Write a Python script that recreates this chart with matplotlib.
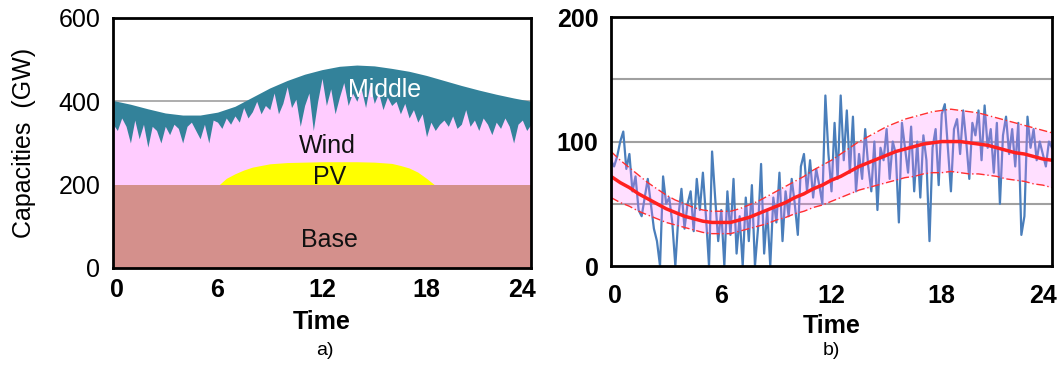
import matplotlib.pyplot as plt
import matplotlib.transforms as mtransforms

plt.rcParams['font.family'] = ['Liberation Sans', 'DejaVu Sans']

# ---------- a) capacities ----------
hours = list(range(25))
# top of the "Middle" band (GW)
middle_top = [402, 393, 382, 372, 367, 367, 374, 388, 410, 432, 450, 465, 476,
              484, 487, 485, 479, 472, 462, 450, 438, 427, 417, 408, 400]

# top of the wind band, every quarter hour (GW)
wind_hours = [i * 0.25 for i in range(97)]
wind_top = [345, 330, 360, 340, 300, 355, 310, 345, 290, 340, 330, 300,
            340, 320, 345, 335, 300, 340, 350, 330, 310, 345, 300, 355,
            350, 335, 360, 345, 365, 350, 385, 360, 375, 400, 370, 390,
            380, 420, 370, 395, 435, 385, 405, 340, 390, 420, 330, 400,
            455, 390, 430, 370, 410, 445, 390, 420, 400, 430, 385, 440,
            395, 420, 380, 410, 390, 400, 370, 395, 360, 380, 350, 370,
            315, 350, 330, 345, 355, 340, 365, 335, 345, 380, 340, 355,
            330, 360, 345, 320, 350, 335, 360, 340, 300, 345, 355, 330,
            345]

pv_hours = [6.1, 6.5, 7.0, 7.5, 8.0, 9.0, 10, 11, 12, 13, 14, 15, 16, 16.5,
            17, 17.5, 18, 18.45]
pv_top = [200, 215, 226, 235, 242, 250, 253, 254, 255, 255, 255, 254, 251,
          246, 240, 230, 215, 200]
base_level = 200

# ---------- b) wind time series ----------
mean_hours = [i * 0.5 for i in range(49)]
mean_wind = [72, 67, 63, 58, 54, 50, 46, 43, 40, 38, 36, 35, 35, 35, 37, 39,
             42, 45, 48, 51, 55, 58, 62, 65, 69, 72, 76, 80, 83, 86, 89, 92,
             94, 96, 98, 99, 100, 100, 100, 99, 98, 97, 95, 93, 91, 90, 88, 86,
             85]
upper_wind = [92, 85, 79, 73, 67, 62, 57, 53, 50, 47, 45, 44, 44, 44, 46, 49,
              52, 56, 60, 64, 68, 72, 77, 81, 85, 90, 95, 100, 104, 108, 112, 115,
              118, 120, 122, 124, 125, 126, 125, 124, 123, 121, 119, 117, 115, 113, 111, 109,
              107]
lower_wind = [55, 51, 48, 44, 41, 38, 35, 33, 31, 29, 27, 26, 26, 26, 28, 30,
              32, 34, 37, 39, 42, 44, 47, 49, 52, 55, 58, 61, 63, 65, 67, 69,
              71, 72, 74, 75, 75, 76, 75, 74, 74, 73, 72, 70, 69, 68, 66, 65,
              63]

obs_hours = [i / 6 for i in range(145)]
obs_wind = [85, 80, 88, 100, 108, 78,
            90, 60, 72, 45, 40, 55,
            70, 50, 30, 20, 0, 72,
            50, 55, 35, 0, 40, 62,
            30, 50, 60, 28, 70, 45,
            75, 40, 0, 92, 55, 20,
            45, 0, 60, 25, 70, 10,
            40, 0, 55, 20, 65, 0,
            30, 82, 10, 45, 0, 55,
            35, 75, 20, 60, 40, 70,
            50, 25, 80, 90, 60, 85,
            55, 78, 65, 50, 137, 90,
            60, 115, 70, 137, 85, 125,
            75, 120, 60, 90, 70, 110,
            80, 60, 100, 45, 95, 85,
            110, 70, 100, 90, 35, 115,
            95, 75, 112, 60, 100, 55,
            105, 85, 20, 95, 110, 65,
            122, 130, 95, 60, 110, 118,
            90, 125, 100, 70, 115, 105,
            125, 85, 129, 95, 110, 75,
            115, 50, 105, 120, 90, 110,
            80, 115, 25, 40, 120, 95,
            110, 85, 100, 90, 80, 100, 95]

xticks = [0, 6, 12, 18, 24]

fig = plt.figure(figsize=(10.61, 3.65), dpi=100)


def nudge_end_labels(ax):
    # 两端刻度标签往里挪一点
    labs = ax.get_xticklabels()
    labs[0].set_transform(labs[0].get_transform()
                          + mtransforms.ScaledTranslation(4 / 100, 0, fig.dpi_scale_trans))
    labs[-1].set_transform(labs[-1].get_transform()
                           + mtransforms.ScaledTranslation(-9 / 100, 0, fig.dpi_scale_trans))


# 左图
ax1 = fig.add_axes([0.1065, 0.2658, 0.394, 0.685])
ax1.axhline(400, color='#a0a0a0', lw=1.2, zorder=0)
ax1.fill_between(hours, 0, middle_top, color='#33829a', lw=0, zorder=1)
ax1.fill_between(wind_hours, 0, wind_top, color='#ffccff', lw=0, zorder=2)
ax1.fill_between(pv_hours, 0, pv_top, color='#ffff00', lw=0, zorder=3)
ax1.fill_between([0, 24], 0, base_level, color='#d4908c', lw=0, zorder=4)
ax1.text(15.6, 427, 'Middle', color='white', fontsize=18, ha='center', va='center', zorder=5)
ax1.text(12.3, 293, 'Wind', color='#111111', fontsize=18, ha='center', va='center', zorder=5)
ax1.text(12.45, 218, 'PV', color='#111111', fontsize=18, ha='center', va='center', zorder=5)
ax1.text(12.45, 67, 'Base', color='#111111', fontsize=18, ha='center', va='center', zorder=5)
ax1.set_xlim(0, 24)
ax1.set_ylim(0, 600)
ax1.set_xticks(xticks)
ax1.set_yticks([0, 200, 400, 600])
ax1.tick_params(length=0, labelsize=18)
ax1.tick_params(axis='y', pad=9)
ax1.tick_params(axis='x', pad=7)
for lab in ax1.get_xticklabels():
    lab.set_fontweight('bold')
nudge_end_labels(ax1)
ax1.set_ylabel('Capacities  (GW)', fontsize=18, labelpad=16)
ax1.set_xlabel('Time', fontsize=18, fontweight='bold', labelpad=6)
for s in ax1.spines.values():
    s.set_linewidth(2)
    s.set_zorder(6)
fig.text(0.306, 0.04, 'a)', fontsize=14, ha='center', va='center')

# 右图
ax2 = fig.add_axes([0.5759, 0.2712, 0.4156, 0.682])
for y in [50, 100, 150]:
    ax2.axhline(y, color='#a0a0a0', lw=1.5, zorder=0)
ax2.plot(obs_hours, obs_wind, color='#4a7ebb', lw=1.6, zorder=1)
ax2.fill_between(mean_hours, lower_wind, upper_wind, color='#ff80ff', alpha=0.25, lw=0, zorder=2)
ax2.plot(mean_hours, upper_wind, color='#ff3030', lw=1, ls=(0, (6, 2, 1, 2)), zorder=3)
ax2.plot(mean_hours, lower_wind, color='#ff3030', lw=1, ls=(0, (6, 2, 1, 2)), zorder=3)
ax2.plot(mean_hours, mean_wind, color='#ff2020', lw=2.5, zorder=4)
ax2.set_xlim(0, 24)
ax2.set_ylim(0, 200)
ax2.set_xticks(xticks)
ax2.set_yticks([0, 100, 200])
ax2.tick_params(length=0, labelsize=18)
ax2.tick_params(axis='y', pad=9)
ax2.tick_params(axis='x', pad=13)
for lab in ax2.get_xticklabels() + ax2.get_yticklabels():
    lab.set_fontweight('bold')
nudge_end_labels(ax2)
ax2.set_xlabel('Time', fontsize=18, fontweight='bold', labelpad=4)
for s in ax2.spines.values():
    s.set_linewidth(2)
    s.set_zorder(6)
fig.text(0.784, 0.04, 'b)', fontsize=14, ha='center', va='center')

fig.savefig('out.png', dpi=100)
